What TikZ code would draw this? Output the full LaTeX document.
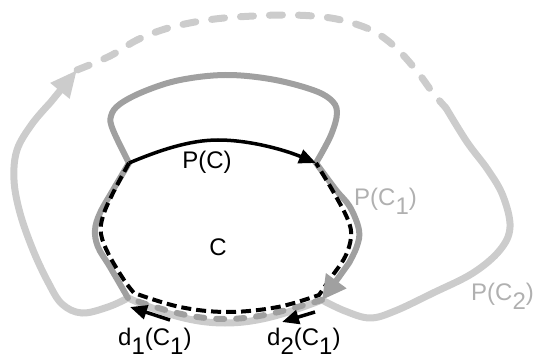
\documentclass[tikz,border=0pt]{standalone}
\usepackage{fontspec}
\setmainfont{Liberation Sans}
\usetikzlibrary{arrows.meta}
\definecolor{lg}{HTML}{CCCCCC}
\definecolor{dg}{HTML}{A0A0A0}
\definecolor{tg}{HTML}{B0B0B0}
\newcommand\sbx[1]{\raisebox{-9pt}{#1}}
\tikzset{
 lgline/.style={draw=lg, line width=7pt, line cap=round, line join=round},
 dgline/.style={draw=dg, line width=6pt, line cap=round},
 bkdash/.style={draw=black, line width=4pt, dash pattern=on 10pt off 5pt},
 bkarrow/.style={draw=black, line width=3.5pt, -{Triangle[length=17pt,width=14pt]}},
 lbl/.style={font=\fontsize{24}{28}\selectfont, inner sep=0pt, anchor=base west},
}
\begin{document}
\begin{tikzpicture}[x=1pt,y=-1pt]
\useasboundingbox (0,0) rectangle (535,358);
\coordinate (A) at (129,163);
\coordinate (B) at (316,163);
\coordinate (BL) at (128,298);
\coordinate (BR) at (322,300);
\coordinate (tipL) at (77,70);
\coordinate (dashend) at (446,108);
\coordinate (arrb) at (339,277);
\coordinate (d1s) at (170,320);
\coordinate (d1e) at (130,307);
\coordinate (d2s) at (315,312);
\coordinate (d2e) at (282,322);
% light gray path P(C2)
\draw[lgline, -{Triangle[length=27pt,width=23pt]}] plot[smooth, tension=0.6] coordinates {(BL) (108,307) (82,313) (62,304) (48,282) (33,250) (20,213) (14,180) (17,150) (32,124) (50,103)} -- (tipL);
\draw[lgline, dash pattern=on 13pt off 16pt] plot[smooth, tension=0.6] coordinates {(tipL) (110,56) (137,40) (165,29) (195,22) (224,18) (254,16) (283,15) (313,16) (341,20) (371,30) (394,46) (416,70) (433,93) (dashend)};
\draw[lgline] plot[smooth, tension=0.6] coordinates {(dashend) (467,142) (488,170) (503,196) (510,227) (500,250) (473,273) (433,293) (395,311) (370,318) (345,311) (BR)} .. controls (290,312) and (260,323) .. (225,323) .. controls (190,323) and (160,312) .. (BL);
% dark gray path P(C1)
\draw[dgline] plot[smooth, tension=0.6] coordinates {(BL) (110,267) (98,247) (95,230) (100,213) (113,190) (A)} -- plot[smooth, tension=0.6] coordinates {(A) (113,130) (111,116) (120,104) (145,91) (180,80) (225,75) (270,79) (310,89) (330,99) (337,112) (331,135) (B)} -- plot[smooth, tension=0.6] coordinates {(B) (336,190) (350,207) (359,230) (357,246) (349,263)} -- (arrb);
\draw[dgline, dash pattern=on 8pt off 12pt] (BR) .. controls (290,309) and (260,319) .. (225,319) .. controls (190,319) and (160,309) .. (BL);
% black dashed C
\draw[bkdash] plot[smooth, tension=0.6] coordinates {(A) (113,193) (103,216) (101,234) (109,255) (124,280) (134,293)} -- plot[smooth, tension=0.6] coordinates {(134,293) (180,307) (228,312) (278,307) (319,295)} -- plot[smooth, tension=0.6] coordinates {(319,295) (330,279) (345,257) (351,237) (348,220) (334,193) (B)};
% arrowhead of P(C1), on top
\draw[draw=dg, line width=6pt, -{Triangle[length=24pt,width=24pt]}] (arrb) -- (BR);
% P(C)
\draw[bkarrow] (A) .. controls (160,150) and (190,140) .. (218,140) .. controls (250,140) and (285,150) .. (B);
\draw[bkarrow] (d1s) -- (d1e);
\draw[bkarrow] (d2s) -- (d2e);
% labels
\node[lbl, anchor=base] (lPC) at (207,168) {P(C)};
\node[lbl, anchor=base] (lC) at (218,255) {C};
\node[lbl, text=tg] (lPC1) at (354,205) {P(C\sbx{1})};
\node[lbl, text=tg] (lPC2) at (471,300) {P(C\sbx{2})};
\node[lbl] (ld1) at (118,345) {d\sbx{1}(C\sbx{1})};
\node[lbl] (ld2) at (267,345) {d\sbx{2}(C\sbx{1})};
\end{tikzpicture}
\end{document}
